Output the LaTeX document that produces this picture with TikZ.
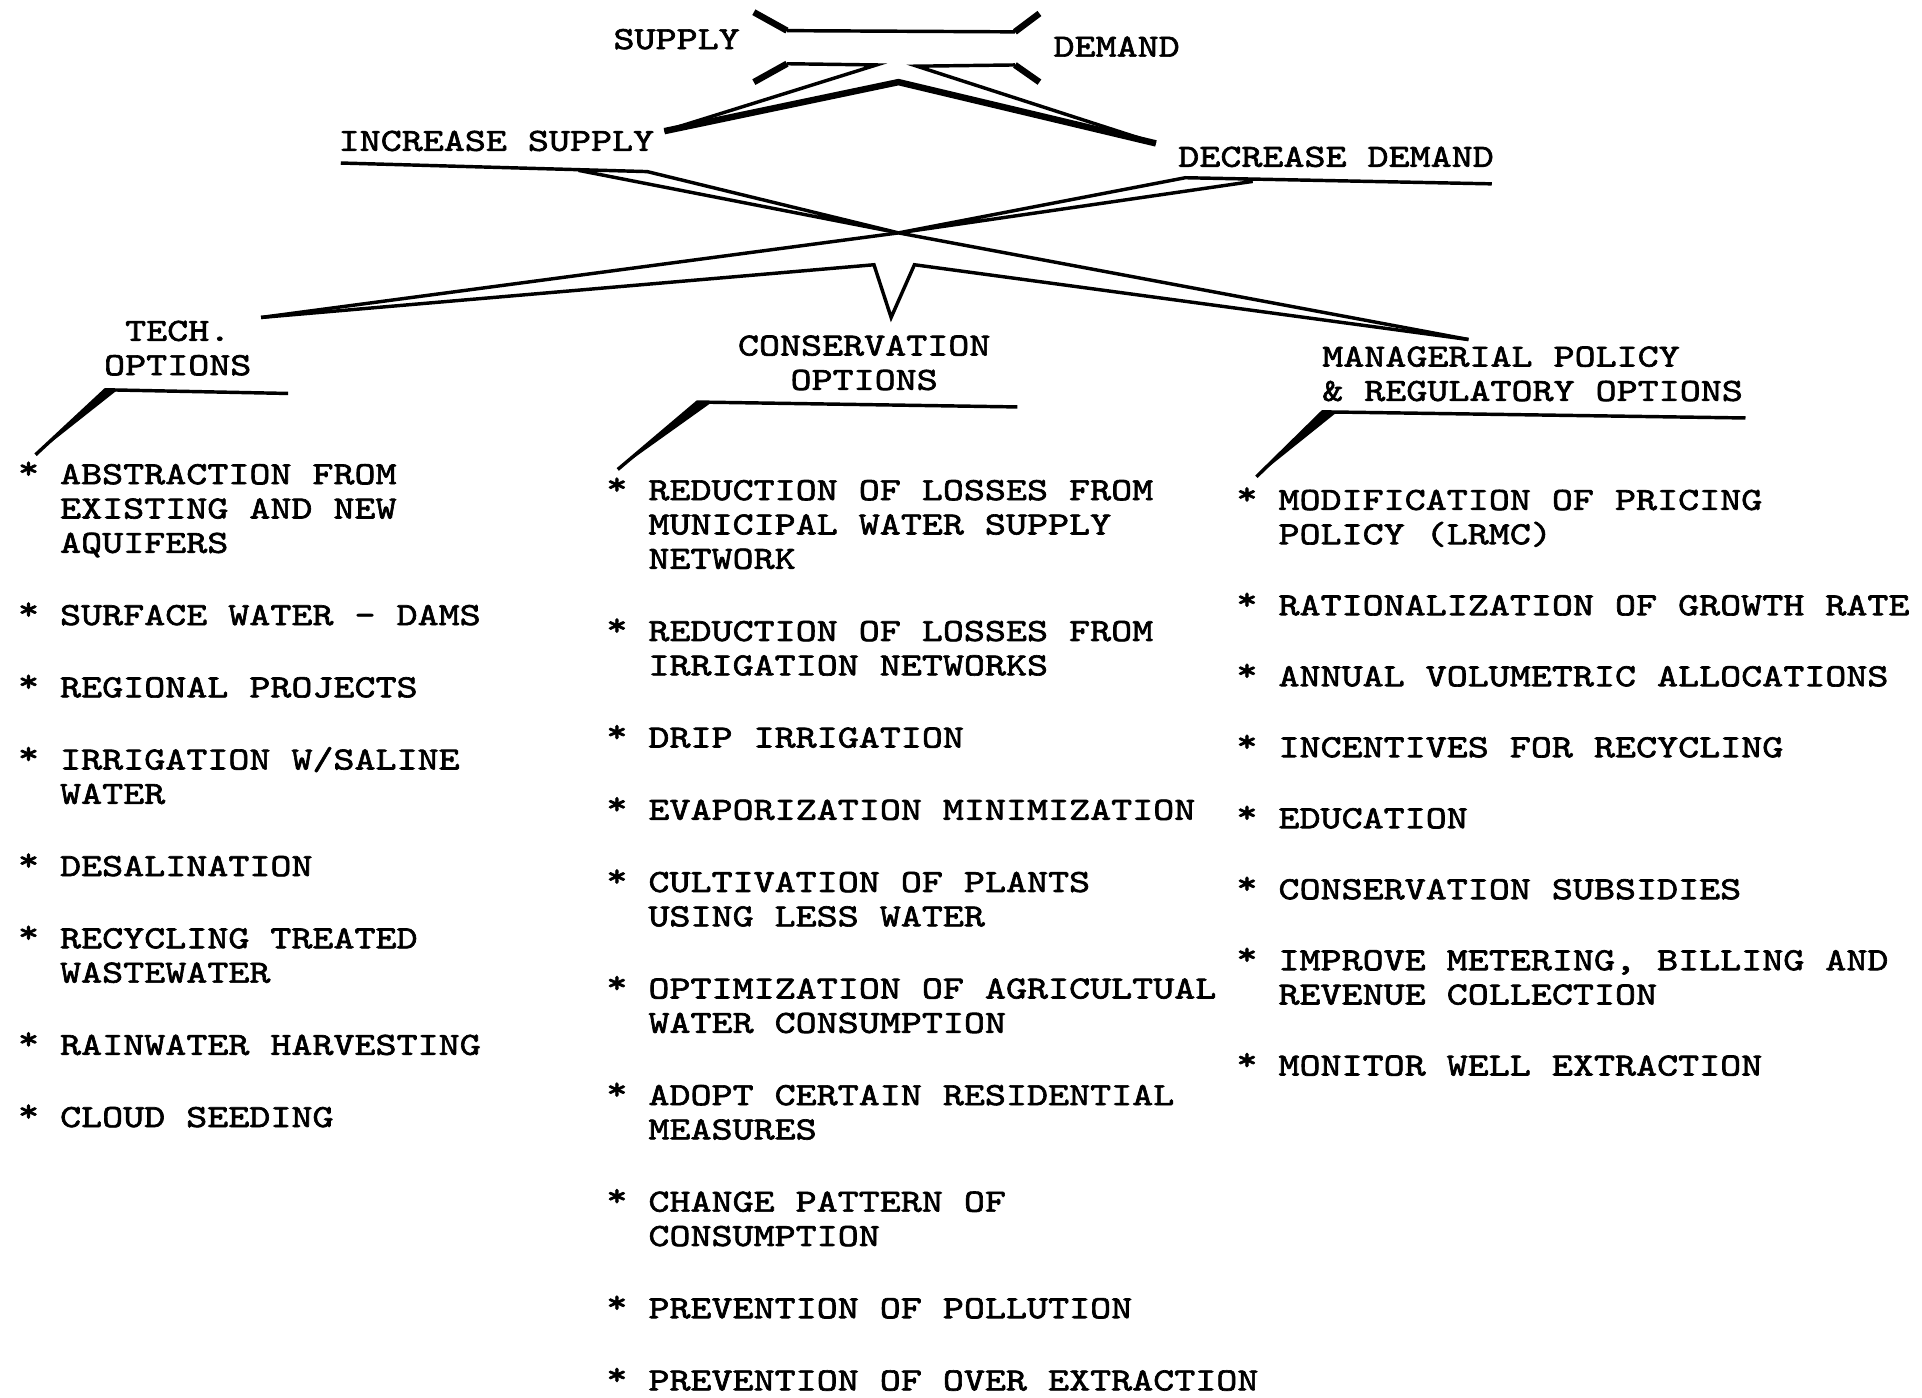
\documentclass[tikz,border=0pt]{standalone}
\usepackage{fontspec}
\usepackage{tikz}
\usetikzlibrary{positioning}
\newfontfamily\maquina[FakeStretch=1.24,FakeBold=2]{lmmono10-regular.otf}
\newcommand{\opcion}[1]{\raisebox{1.3pt}{*}~\begin{tabular}[t]{@{}l@{}}#1\end{tabular}}

\begin{document}
\begin{tikzpicture}[x=0.1mm, y=-0.1mm, line join=miter]
    \tikzstyle{every node}=[font={\maquina\fontsize{7.5}{7.97}\selectfont}, inner sep=0pt, text=black]
    \tikzstyle{item}=[anchor=base west]
    \tikzstyle{titulo}=[align=center]
    \tikzstyle{raya}=[line width=0.8pt]
    \tikzstyle{grueso}=[line width=1.5pt]
    \tikzset{sigue/.style={below=2.85mm of #1.south west, anchor=north west},
             siguec/.style={below=2.95mm of #1.south west, anchor=north west}}

    \useasboundingbox (0,0) rectangle (1568,1140);

    % Titulos
    \node (oferta)      at (552,32)   {SUPPLY};
    \node (demanda)     at (911,38)   {DEMAND};
    \node (aumoferta)   at (405,115)  {INCREASE SUPPLY};
    \node (disdemanda)  at (1090,128) {DECREASE DEMAND};
    \node[titulo] (tec)  at (145,284) {TECH.\\OPTIONS};
    \node[titulo] (cons) at (705,296) {CONSERVATION\\OPTIONS};
    \node[align=left, anchor=west] (gest) at (1078,305) {MANAGERIAL POLICY\\\& REGULATORY OPTIONS};

    % Opciones tecnicas
    \node[item] (t1) at (14,395) {\opcion{ABSTRACTION FROM\\EXISTING AND NEW\\AQUIFERS}};
    \node (t2) [siguec=t1] {\opcion{SURFACE WATER - DAMS}};
    \node (t3) [siguec=t2] {\opcion{REGIONAL PROJECTS}};
    \node (t4) [siguec=t3] {\opcion{IRRIGATION W/SALINE\\WATER}};
    \node (t5) [siguec=t4] {\opcion{DESALINATION}};
    \node (t6) [siguec=t5] {\opcion{RECYCLING TREATED\\WASTEWATER}};
    \node (t7) [siguec=t6] {\opcion{RAINWATER HARVESTING}};
    \node (t8) [siguec=t7] {\opcion{CLOUD SEEDING}};

    % Opciones de conservacion
    \node[item] (c1) at (494,408) {\opcion{REDUCTION OF LOSSES FROM\\MUNICIPAL WATER SUPPLY\\NETWORK}};
    \node (c2)  [siguec=c1] {\opcion{REDUCTION OF LOSSES FROM\\IRRIGATION NETWORKS}};
    \node (c3)  [siguec=c2] {\opcion{DRIP IRRIGATION}};
    \node (c4)  [siguec=c3] {\opcion{EVAPORIZATION MINIMIZATION}};
    \node (c5)  [siguec=c4] {\opcion{CULTIVATION OF PLANTS\\USING LESS WATER}};
    \node (c6)  [siguec=c5] {\opcion{OPTIMIZATION OF AGRICULTUAL\\WATER CONSUMPTION}};
    \node (c7)  [siguec=c6] {\opcion{ADOPT CERTAIN RESIDENTIAL\\MEASURES}};
    \node (c8)  [siguec=c7] {\opcion{CHANGE PATTERN OF\\CONSUMPTION}};
    \node (c9)  [siguec=c8] {\opcion{PREVENTION OF POLLUTION}};
    \node (c10) [siguec=c9] {\opcion{PREVENTION OF OVER EXTRACTION}};

    % Opciones de gestion
    \node[item] (g1) at (1008,416) {\opcion{MODIFICATION OF PRICING\\POLICY (LRMC)}};
    \node (g2) [sigue=g1] {\opcion{RATIONALIZATION OF GROWTH RATE}};
    \node (g3) [sigue=g2] {\opcion{ANNUAL VOLUMETRIC ALLOCATIONS}};
    \node (g4) [sigue=g3] {\opcion{INCENTIVES FOR RECYCLING}};
    \node (g5) [sigue=g4] {\opcion{EDUCATION}};
    \node (g6) [sigue=g5] {\opcion{CONSERVATION SUBSIDIES}};
    \node (g7) [sigue=g6] {\opcion{IMPROVE METERING, BILLING AND\\REVENUE COLLECTION}};
    \node (g8) [sigue=g7] {\opcion{MONITOR WELL EXTRACTION}};

    % Puntos de las rayas
    \coordinate (llA) at (615,10);  \coordinate (llB) at (642,25);
    \coordinate (llC) at (828,26);  \coordinate (llD) at (848,11);
    \coordinate (lbA) at (615,67);  \coordinate (lbB) at (642,52);
    \coordinate (lbC) at (715,53);  \coordinate (cima) at (733,67);
    \coordinate (lbD) at (748,54);  \coordinate (lbE) at (828,53);
    \coordinate (lbF) at (848,67);
    \coordinate (pAum) at (542,107); \coordinate (pDis) at (943,117);
    \coordinate (aumI) at (278,133); \coordinate (aumA) at (472,139); \coordinate (aumB) at (528,140);
    \coordinate (disD) at (1217,150); \coordinate (disA) at (967,145); \coordinate (disB) at (1022,148);
    \coordinate (cruce) at (733,190);
    \coordinate (pTec) at (213,259); \coordinate (pGes) at (1198,277);
    \coordinate (vA) at (713,216); \coordinate (vB) at (727,259); \coordinate (vC) at (746,216);
    \coordinate (tecD) at (235,321);  \coordinate (tecI) at (86,318);   \coordinate (tecB) at (29,371);
    \coordinate (consD) at (830,332); \coordinate (consI) at (569,328); \coordinate (consB) at (504,383);
    \coordinate (gesD) at (1424,341); \coordinate (gesI) at (1079,336); \coordinate (gesB) at (1025,389);

    % Oferta y demanda
    \draw[raya] (llB) -- (llC);
    \draw[grueso] (llA) -- (llB)  (llC) -- (llD);
    \draw[raya] (lbB) -- (lbC) -- (pAum)  (pDis) -- (lbD) -- (lbE);
    \draw[grueso] (lbA) -- (lbB)  (lbE) -- (lbF);
    \draw[grueso] (pAum) -- (cima) -- (pDis);

    % El cruce
    \draw[raya] (aumI) -- (aumB) -- (cruce) -- (aumA);
    \draw[raya] (disD) -- (disA) -- (cruce) -- (disB);
    \draw[raya] (pTec) -- (cruce) -- (pGes);
    \draw[raya] (pTec) -- (vA) -- (vB) -- (vC) -- (pGes);

    % Subrayados de las opciones
    \draw[raya] (tecD) -- (tecI) -- (tecB);
    \fill (tecI) -- (tecB) -- ([xshift=1mm]tecI) -- cycle;
    \draw[raya] (consD) -- (consI) -- (consB);
    \fill (consI) -- (consB) -- ([xshift=1.2mm]consI) -- cycle;
    \draw[raya] (gesD) -- (gesI) -- (gesB);
    \fill (gesI) -- (gesB) -- ([xshift=1.2mm]gesI) -- cycle;
\end{tikzpicture}
\end{document}
